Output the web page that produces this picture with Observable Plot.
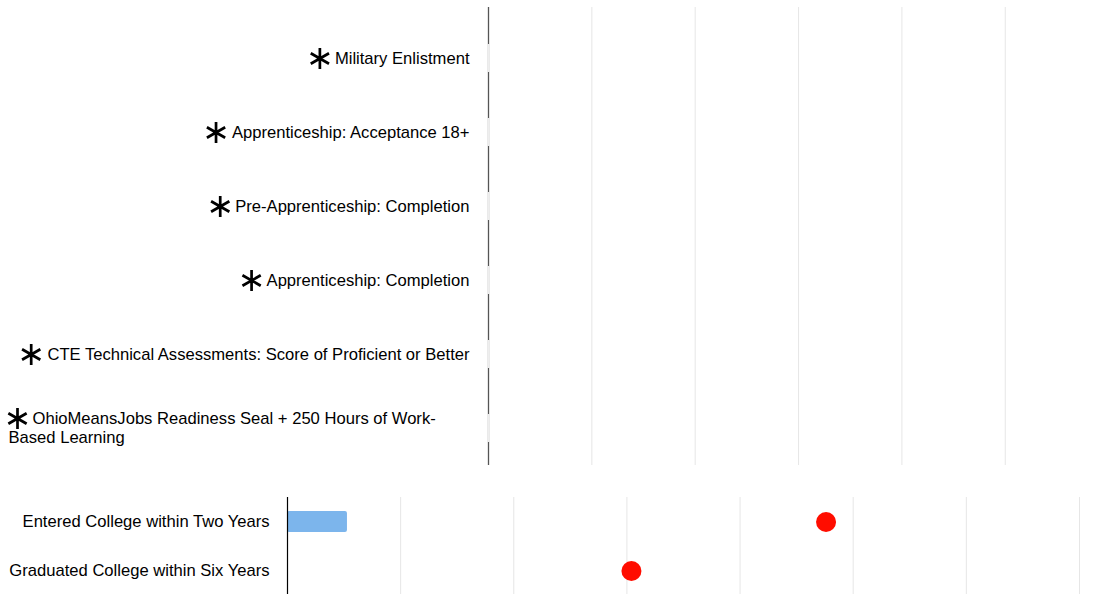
<!DOCTYPE html>
<html><head><meta charset="utf-8">
<script src="https://cdn.jsdelivr.net/npm/d3@7"></script>
<script src="https://cdn.jsdelivr.net/npm/@observablehq/plot@0.6"></script>
<style>
body{margin:0;background:#fff;font-family:"Liberation Sans",Arial,sans-serif;}
svg{display:block}
</style></head><body><div id="chart"></div>
<script>
// ---- data ----
const topCategories = [
  "Military Enlistment",
  "Apprenticeship: Acceptance 18+",
  "Pre-Apprenticeship: Completion",
  "Apprenticeship: Completion",
  "CTE Technical Assessments: Score of Proficient or Better",
  "OhioMeansJobs Readiness Seal + 250 Hours of Work-Based Learning"
];
const topSuppressed = [true, true, true, true, true, true]; // marked with an asterisk, no value shown
const topTicks = [0, 10, 20, 30, 40, 50];
const topDomainMax = 59.7;

const bottomCategories = ["Entered College within Two Years", "Graduated College within Six Years"];
const barValues = [5.3, null];
const dotValues = [47.6, 30.4];
const bottomTicks = [0, 10, 20, 30, 40, 50, 60, 70];
const bottomDomainMax = 72.3;

// label wrapping for the long category
const wrapped = {
  "OhioMeansJobs Readiness Seal + 250 Hours of Work-Based Learning":
    ["OhioMeansJobs Readiness Seal + 250 Hours of Work-", "Based Learning"]
};

// ---- drawing ----
const FS = 16.6;
const FF = '"Liberation Sans", Arial, sans-serif';
const ctx = document.createElement("canvas").getContext("2d");
ctx.font = `${FS}px ${FF}`;

const starred = topCategories.filter((c, i) => topSuppressed[i]);
const shortCats = topCategories.filter(c => !wrapped[c]);
const longCats = topCategories.filter(c => wrapped[c]);

const topPlot = Plot.plot({
  width: 1105, height: 470,
  marginLeft: 488, marginRight: 0, marginTop: 7, marginBottom: 5,
  style: {fontFamily: FF, fontSize: FS + "px", color: "#000", background: "#fff", overflow: "visible"},
  x: {domain: [0, topDomainMax], axis: null},
  y: {domain: topCategories, range: [21, 465], padding: 0, axis: null},
  marks: [
    Plot.gridX(topTicks, {stroke: "#e6e6e6", strokeOpacity: 1}),
    Plot.ruleX([0], {stroke: "#555", strokeWidth: 1.3}),
    Plot.tickX(topCategories, {x: () => 0, y: d => d, stroke: "#eee", strokeWidth: 2, insetTop: 23, insetBottom: 23}),
    Plot.axisY(shortCats, {anchor: "left", tickSize: 0, tickPadding: 19, fontSize: FS, textAnchor: "end", label: null}),
    Plot.text(longCats, {y: d => d, text: d => wrapped[d][0], frameAnchor: "left", textAnchor: "start", dx: -456, dy: -10, fontSize: FS}),
    Plot.text(longCats, {y: d => d, text: d => wrapped[d][1], frameAnchor: "left", textAnchor: "start", dx: -480, dy: 9, fontSize: FS}),
    ...starred.filter(c => !wrapped[c]).map(c => Plot.dot([c], {
      y: d => d, frameAnchor: "left", symbol: "asterisk", r: 10, stroke: "#000", strokeWidth: 2.7,
      dx: -(19 + ctx.measureText(c).width + 15), dy: 0
    })),
    Plot.dot(starred.filter(c => wrapped[c]), {
      y: d => d, frameAnchor: "left", symbol: "asterisk", r: 10, stroke: "#000", strokeWidth: 2.7,
      dx: -471, dy: -10
    })
  ]
});

const bottomData = bottomCategories.map((c, i) => ({category: c, bar: barValues[i], dot: dotValues[i]}));

const bottomPlot = Plot.plot({
  width: 1105, height: 124,
  marginLeft: 287, marginRight: 0, marginTop: 27, marginBottom: 0,
  style: {fontFamily: FF, fontSize: FS + "px", color: "#000", background: "#fff", overflow: "visible"},
  x: {domain: [0, bottomDomainMax], axis: null},
  y: {domain: bottomCategories, range: [26.5, 124.5], padding: 0, axis: null},
  marks: [
    Plot.gridX(bottomTicks, {stroke: "#e6e6e6", strokeOpacity: 1}),
    Plot.barX(bottomData.filter(d => d.bar != null), {x: "bar", y: "category", fill: "#7cb5ec", insetTop: 14, insetBottom: 14, rx: 2}),
    Plot.ruleX([0], {stroke: "#000", strokeWidth: 1.2}),
    Plot.axisY(bottomCategories, {anchor: "left", tickSize: 0, tickPadding: 18, fontSize: FS, textAnchor: "end", label: null}),
    Plot.dot(bottomData, {x: "dot", y: "category", r: 10, fill: "#ff0d00", stroke: null})
  ]
});

const root = document.getElementById("chart");
root.appendChild(topPlot);
root.appendChild(bottomPlot);
</script>
</body></html>
